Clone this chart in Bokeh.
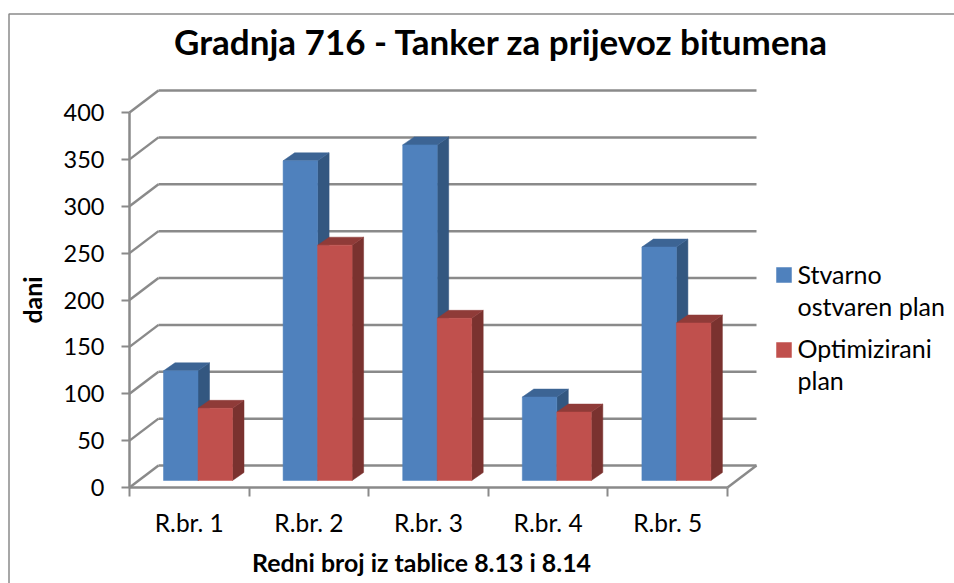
import math
from bokeh.plotting import figure
from bokeh.embed import file_html
from bokeh.resources import INLINE
from bokeh.models import Label, FixedTicker, LinearAxis, Range1d

categories = ["R.br. 1", "R.br. 2", "R.br. 3", "R.br. 4", "R.br. 5"]
stvarno = [117, 341, 358, 89, 249]
optimizirani = [77, 251, 173, 73, 168]
y_ticks = [0, 50, 100, 150, 200, 250, 300, 350, 400]
series_names = [["Stvarno", "ostvaren plan"], ["Optimizirani", "plan"]]
title_text = "Gradnja 716 - Tanker za prijevoz bitumena"
x_title = "Redni broj iz tablice 8.13 i 8.14"
y_title = "dani"

BLUE = ("#4F81BD", "#335780", "#3C6494")
RED = ("#C0504D", "#7A322F", "#8F3B38")
GRID = "#8A8A8A"

# geometry of the canvas (the frame fills it)
W, H = 954, 583
FX0, FY0 = 129, 487            # position of category 0 / value 0
CAT_PX = 119.6
UNIT_PX = 375 / 400

def xd(px):
    return (px - FX0) / CAT_PX

def yd(py):
    return (FY0 - py) / UNIT_PX

wall_dx = 29 / CAT_PX
wall_dy = 22 / UNIT_PX
bar_dx = 11.5 / CAT_PX
bar_dy = 8 / UNIT_PX
bar_w = 34.5 / CAT_PX
bar_off = 34 / CAT_PX
base = yd(480)

p = figure(width=W, height=H, output_backend="svg", toolbar_location=None,
           x_range=Range1d(xd(0), xd(W)), y_range=Range1d(yd(H), yd(0)),
           min_border=0, x_axis_type=None, y_axis_type=None)
p.outline_line_color = None
p.background_fill_color = "white"
p.border_fill_color = "white"

# axes
yax = LinearAxis(ticker=FixedTicker(ticks=y_ticks), bounds=(0, 400), fixed_location=0)
yax.axis_line_color = GRID
yax.axis_line_width = 2.5
yax.major_tick_line_color = GRID
yax.major_tick_line_width = 2
yax.major_tick_in = 0
yax.major_tick_out = 8
yax.minor_tick_line_color = None
yax.major_label_standoff = 17
yax.major_label_text_font = "Lato"
yax.major_label_text_font_size = "23.5px"
yax.major_label_text_color = "#000000"
p.add_layout(yax, "left")

n = len(categories)
xax = LinearAxis(ticker=FixedTicker(ticks=[i + 0.5 for i in range(n)],
                                    minor_ticks=list(range(n + 1))),
                 bounds=(0, n), fixed_location=0)
xax.major_label_overrides = {i + 0.5: c for i, c in enumerate(categories)}
xax.axis_line_color = GRID
xax.axis_line_width = 2.5
xax.major_tick_line_color = None
xax.minor_tick_line_color = GRID
xax.minor_tick_line_width = 2
xax.minor_tick_in = 0
xax.minor_tick_out = 9
xax.major_label_standoff = 11
xax.major_label_text_font = "Lato"
xax.major_label_text_font_size = "24.5px"
xax.major_label_text_color = "#000000"
p.add_layout(xax, "below")

# back wall gridlines and side wall diagonals
p.segment(x0=[wall_dx] * len(y_ticks), y0=[t + wall_dy for t in y_ticks],
          x1=[n + wall_dx] * len(y_ticks), y1=[t + wall_dy for t in y_ticks],
          line_color=GRID, line_width=2.5)
p.segment(x0=[0] * len(y_ticks), y0=y_ticks,
          x1=[wall_dx] * len(y_ticks), y1=[t + wall_dy for t in y_ticks],
          line_color=GRID, line_width=2.5)
p.segment(x0=[n], y0=[0], x1=[n + wall_dx], y1=[wall_dy],
          line_color=GRID, line_width=2.5)

# 3D bars
def bar(x_left, value, cols):
    front, side, top = cols
    x_right = x_left + bar_w
    y_top = base + value
    p.patch([x_right, x_right + bar_dx, x_right + bar_dx, x_right],
            [base, base + bar_dy, y_top + bar_dy, y_top],
            fill_color=side, line_color=side, line_width=0.5)
    p.patch([x_left, x_left + bar_dx, x_right + bar_dx, x_right],
            [y_top, y_top + bar_dy, y_top + bar_dy, y_top],
            fill_color=top, line_color=top, line_width=0.5)
    p.quad(left=[x_left], right=[x_right], bottom=[base], top=[y_top],
           fill_color=front, line_color=front, line_width=0.5)

for i in range(n):
    bar(i + bar_off, stvarno[i], BLUE)
    bar(i + bar_off + bar_w, optimizirani[i], RED)

# legend
for cols, names, sw_top, txt_ys in [
    (BLUE, series_names[0], 267, (273, 305)),
    (RED, series_names[1], 342, (347, 379)),
]:
    p.quad(left=[xd(776)], right=[xd(791)], top=[yd(sw_top)], bottom=[yd(sw_top + 15)],
           fill_color=cols[0], line_color=cols[0], line_width=0.5)
    for name, ty in zip(names, txt_ys):
        p.add_layout(Label(x=xd(797), y=yd(ty), text=name, text_font="Lato",
                           text_font_size="25px", text_color="#000000",
                           text_baseline="middle", text_align="left"))

# titles
p.add_layout(Label(x=xd(501), y=yd(40), text=title_text, text_font="Lato",
                   text_font_style="bold", text_font_size="35px", text_color="#000000",
                   text_align="center", text_baseline="middle"))
p.add_layout(Label(x=xd(421), y=yd(561), text=x_title, text_font="Lato",
                   text_font_style="bold", text_font_size="24.9px", text_color="#000000",
                   text_align="center", text_baseline="middle"))
p.add_layout(Label(x=xd(31), y=yd(299.5), text=y_title, text_font="Lato", angle=math.pi / 2,
                   text_font_style="bold", text_font_size="24.9px", text_color="#000000",
                   text_align="center", text_baseline="middle"))

# chart-area border: left and top edges are visible, the rest runs off the page
p.line(x=[xd(8.5), xd(8.5), xd(W)], y=[yd(H), yd(13.5), yd(13.5)],
       line_color=GRID, line_width=1.5)

open("out.html", "w").write(file_html(p, INLINE))
